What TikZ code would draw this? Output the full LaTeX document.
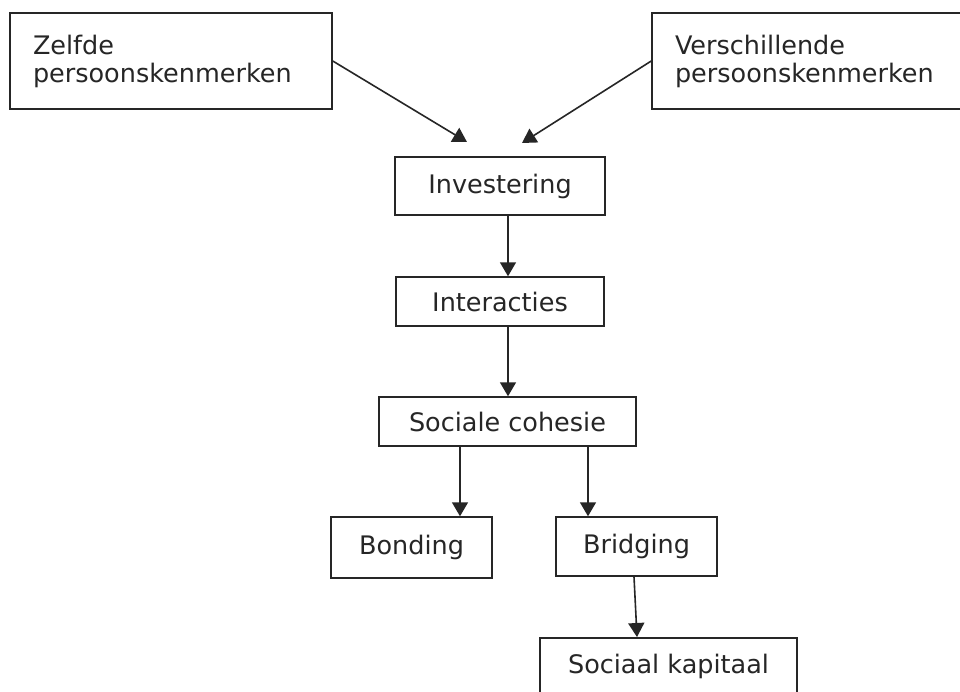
\documentclass[tikz,border=0pt]{standalone}
\usepackage{fontspec}
\setmainfont{DejaVu Sans}
\usetikzlibrary{arrows.meta}
\begin{document}
\begin{tikzpicture}[x=1pt,y=-1pt,line width=1.5pt,
  box/.style={draw=black!85, rectangle, inner sep=0pt, text=black!85, font=\fontsize{25.5}{28}\selectfont},
  arr/.style={draw=black!85, -{Triangle[length=14pt,width=16pt]}, line width=1.6pt}]
\clip (0,0) rectangle (960,691);
\fill[white] (0,0) rectangle (960,691);
\node[box, minimum width=322, minimum height=96, text width=276, align=left] (zelf) at (171,61) {Zelfde\\persoonskenmerken};
\node[box, minimum width=322, minimum height=96, text width=276, align=left] (vers) at (813,61) {Verschillende\\persoonskenmerken};
\node[box, minimum width=210, minimum height=58] (inv) at (500,186) {Investering};
\node[box, minimum width=208, minimum height=49] (int) at (500,301.5) {Interacties};
\node[box, minimum width=257, minimum height=49] (soc) at (507.5,421.5) {Sociale cohesie};
\node[box, minimum width=161, minimum height=61] (bond) at (411.5,547.5) {Bonding};
\node[box, minimum width=161, minimum height=59] (brid) at (636.5,546.5) {Bridging};
\node[box, anchor=north, minimum width=257, text height=26pt, text depth=14pt, inner ysep=10pt] (kap) at (668.5,637) {Sociaal kapitaal};
\coordinate (t1) at (467,142);
\coordinate (t2) at (522,143);
\draw[arr] (zelf.east) -- (t1);
\draw[arr] (vers.west) -- (t2);
\draw[arr] ([xshift=8pt]inv.south) -- ([xshift=8pt]int.north);
\draw[arr] ([xshift=8pt]int.south) -- ([xshift=8pt]int.south |- soc.north);
\draw[arr] ([xshift=-47.5pt]soc.south) -- ([xshift=-47.5pt]soc.south |- bond.north);
\draw[arr] ([xshift=80.5pt]soc.south) -- ([xshift=80.5pt]soc.south |- brid.north);
\draw[arr] ([xshift=-2.5pt]brid.south) -- ([xshift=-31.5pt]kap.north);
\end{tikzpicture}
\end{document}
